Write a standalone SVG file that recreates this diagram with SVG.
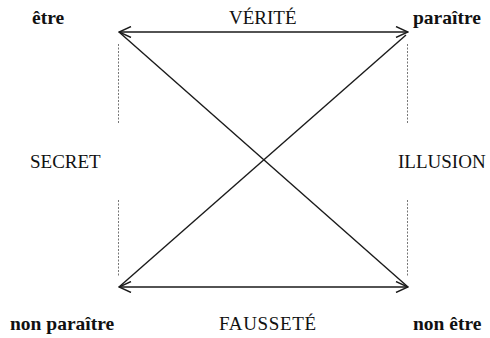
<svg xmlns="http://www.w3.org/2000/svg" width="490" height="338" viewBox="0 0 490 338">
<style>
.b{font-family:"Liberation Serif","Times New Roman",serif;font-weight:bold;font-size:19.5px;fill:#111}
.r{font-family:"Liberation Serif","Times New Roman",serif;font-size:19px;fill:#111}
.ln{stroke:#1a1a1a;stroke-width:1.4;fill:none}
.dt{stroke:#777;stroke-width:1;stroke-dasharray:2 1.5;fill:none}
</style>
<defs>
<marker id="arr" viewBox="0 0 14 12" refX="13" refY="6" markerWidth="14" markerHeight="12" markerUnits="userSpaceOnUse" orient="auto-start-reverse">
<path d="M1,0.5 L13,6 L1,11.5" fill="none" stroke="#1a1a1a" stroke-width="1.4"/>
</marker>
</defs>
<rect width="490" height="338" fill="#fff"/>
<g id="connectors">
<line class="ln" x1="119" y1="32" x2="408" y2="32" marker-start="url(#arr)" marker-end="url(#arr)"/>
<line class="ln" x1="119" y1="287" x2="408" y2="287" marker-start="url(#arr)" marker-end="url(#arr)"/>
<line class="ln" x1="119" y1="32" x2="408" y2="287"/>
<line class="ln" x1="406" y1="35" x2="119" y2="287"/>
<line class="dt" x1="118.5" y1="44" x2="118.5" y2="123"/>
<line class="dt" x1="118.5" y1="200" x2="118.5" y2="276"/>
<line class="dt" x1="407.5" y1="44" x2="407.5" y2="123"/>
<line class="dt" x1="407.5" y1="200" x2="407.5" y2="276"/>
</g>
<g id="etre"><text class="b" x="32" y="24">être</text></g>
<g id="paraitre"><text class="b" x="413" y="24">paraître</text></g>
<g id="non-paraitre"><text class="b" x="10" y="330">non paraître</text></g>
<g id="non-etre"><text class="b" x="413" y="330">non être</text></g>
<g id="verite"><text class="r" x="229" y="24">VÉRITÉ</text></g>
<g id="faussete"><text class="r" x="219" y="330" textLength="97">FAUSSETÉ</text></g>
<g id="secret"><text class="r" x="30" y="168">SECRET</text></g>
<g id="illusion"><text class="r" x="398" y="168">ILLUSION</text></g>
</svg>
